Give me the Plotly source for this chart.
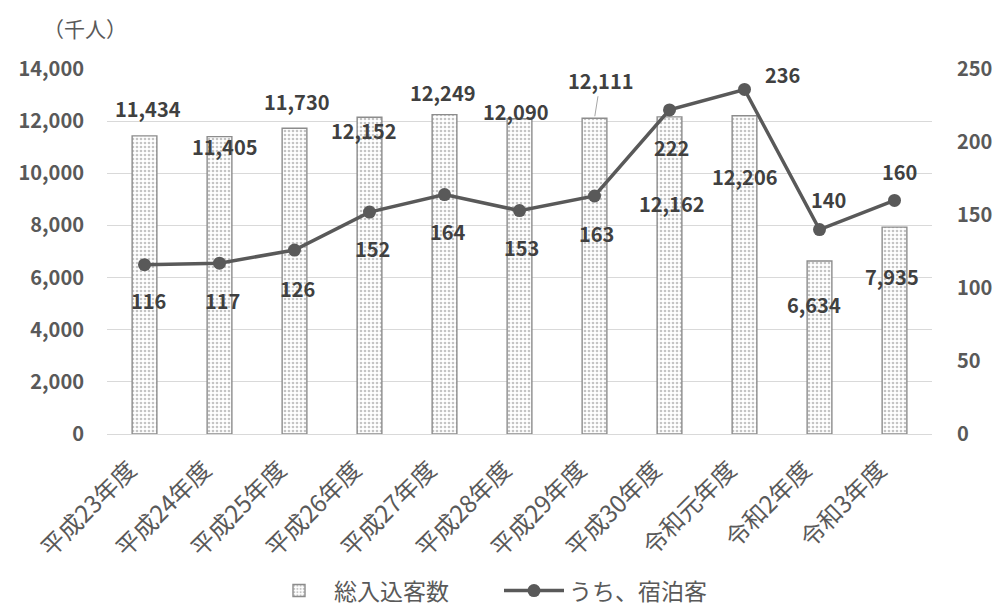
import plotly.graph_objects as go

# Fiscal years
categories = ["平成23年度", "平成24年度", "平成25年度", "平成26年度", "平成27年度",
              "平成28年度", "平成29年度", "平成30年度", "令和元年度", "令和2年度", "令和3年度"]
# Total visitors (thousand people)
total_visitors = [11434, 11405, 11730, 12152, 12249, 12090, 12111, 12162, 12206, 6634, 7935]
# Of which overnight guests (thousand people)
overnight_guests = [116, 117, 126, 152, 164, 153, 163, 222, 236, 140, 160]

left_ticks = [0, 2000, 4000, 6000, 8000, 10000, 12000, 14000]
right_ticks = [0, 50, 100, 150, 200, 250]

# Label placement offsets in pixels (xshift, yshift)
bar_label_offsets = [(3, 27), (5, -10), (2, 27), (-6, -13), (-2, 22), (-4, 7),
                     None, (2, -87), (0, -61), (-6, -43), (-3, -49)]
line_label_offsets = [(4, -36), (3, -37), (3, -38), (3, -36), (3, -37), (2, -37),
                      (2, -37), (2, -38), (38, 15), (9, 30), (5, 29)]

FONT = "Noto Sans CJK JP"
AXIS_GRAY = "#595959"
LABEL_GRAY = "#404040"

# slanted category labels sit slightly left of each slot
TICK_NUDGE = 0.2
positions = list(range(len(categories)))

fig = go.Figure()

fig.add_trace(go.Bar(
    x=positions, y=total_visitors, name="総入込客数",
    width=0.33,
    marker=dict(
        color="white",
        line=dict(color="#8c8c8c", width=1.4),
        pattern=dict(shape=".", fgcolor="#8a8a8a", bgcolor="white", size=4, solidity=0.35),
    ),
    yaxis="y",
))

fig.add_trace(go.Scatter(
    x=positions, y=overnight_guests, name="うち、宿泊客",
    mode="lines+markers",
    line=dict(color="#595959", width=3.5),
    marker=dict(color="#595959", size=13),
    yaxis="y2",
))

annotations = []
label_font = dict(family=FONT, size=20, color=LABEL_GRAY, weight="bold")

for pos, val, off in zip(positions, total_visitors, bar_label_offsets):
    if off is None:
        # label lifted away from the bar with a leader line
        annotations.append(dict(
            x=pos, y=val, xref="x", yref="y", text=f"{val:,}",
            showarrow=True, arrowhead=0, arrowwidth=1, arrowcolor="#a6a6a6",
            ax=6, ay=-38, standoff=2, font=label_font,
        ))
    else:
        annotations.append(dict(
            x=pos, y=val, xref="x", yref="y", text=f"{val:,}",
            showarrow=False, xshift=off[0], yshift=off[1], font=label_font,
        ))

for pos, val, off in zip(positions, overnight_guests, line_label_offsets):
    annotations.append(dict(
        x=pos, y=val, xref="x", yref="y2", text=f"{val:,}",
        showarrow=False, xshift=off[0], yshift=off[1], font=label_font,
    ))

# Unit label above the left axis
annotations.append(dict(
    x=-0.027, y=1.112, xref="paper", yref="paper", text="（千人）",
    xanchor="center", yanchor="middle",
    showarrow=False, font=dict(family=FONT, size=21, color=AXIS_GRAY),
))

fig.update_layout(
    width=998, height=612,
    margin=dict(l=107, r=66, t=69, b=178),
    paper_bgcolor="white", plot_bgcolor="white",
    font=dict(family=FONT, color=AXIS_GRAY),
    showlegend=True,
    legend=dict(
        orientation="h", xref="container", yref="container",
        x=0.5, xanchor="center", y=0.035, yanchor="middle",
        font=dict(family=FONT, size=23, color=AXIS_GRAY),
        itemwidth=60, entrywidth=160, traceorder="normal",
    ),
    xaxis=dict(
        range=[-0.5, len(categories) - 0.5],
        tickvals=[p - TICK_NUDGE for p in positions], ticktext=categories,
        tickangle=-45, automargin=False,
        tickfont=dict(family=FONT, size=24, color=AXIS_GRAY),
        showgrid=False, showline=False, zeroline=False, ticks="", ticklabelstandoff=16,
    ),
    yaxis=dict(
        range=[0, 14000], tickvals=left_ticks, tickformat=",",
        tickfont=dict(family=FONT, size=20, color=AXIS_GRAY, weight="bold"),
        showgrid=True, gridcolor="#d9d9d9", gridwidth=1,
        zeroline=True, zerolinecolor="#d9d9d9", zerolinewidth=1,
        showline=False, ticks="", ticklabelstandoff=22, automargin=False,
    ),
    yaxis2=dict(
        range=[0, 250], tickvals=right_ticks, overlaying="y", side="right",
        tickfont=dict(family=FONT, size=20, color=AXIS_GRAY, weight="bold"),
        showgrid=False, zeroline=False, showline=False, ticks="",
        ticklabelstandoff=24, automargin=False,
    ),
    annotations=annotations,
)

fig.write_html("out.html")
